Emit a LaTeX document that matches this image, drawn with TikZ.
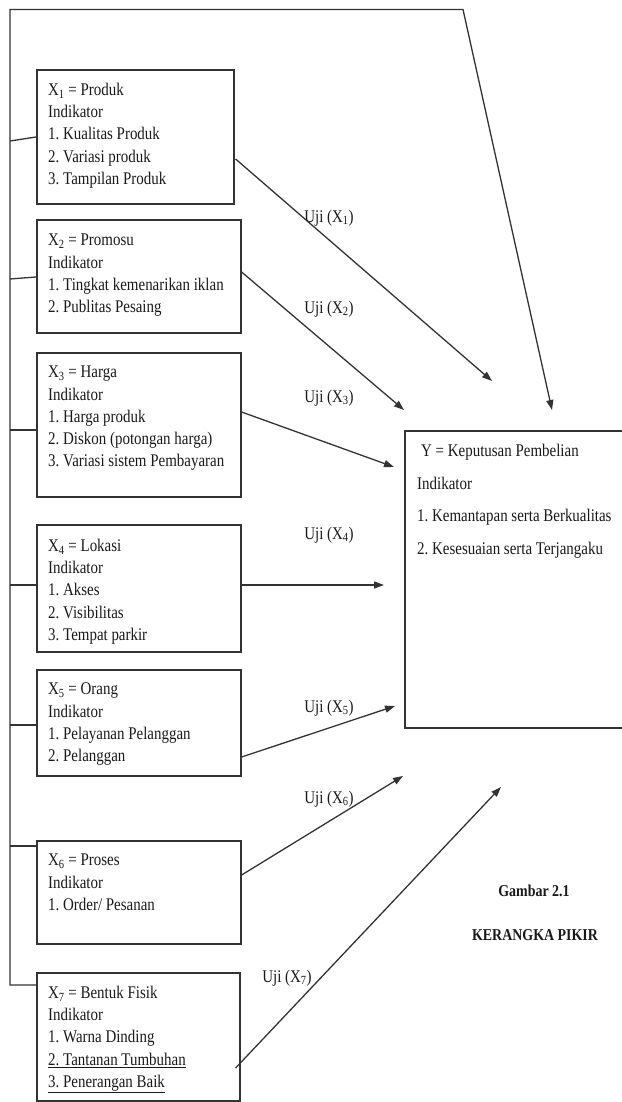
\documentclass[tikz,border=0pt]{standalone}
\usepackage{fontspec}
\setmainfont[FakeStretch=0.84]{Liberation Serif}
\usetikzlibrary{arrows.meta,calc}
\frenchspacing
\begin{document}
\begin{tikzpicture}[x=1pt,y=-1pt,
  ln/.style={draw=black!80,line width=1.3pt,line join=miter},
  boxst/.style={draw=black!80,line width=1.6pt,inner sep=0pt,anchor=north west},
  txt/.style={anchor=north west,inner sep=0pt,align=left,text=black!90,font=\fontsize{17.8}{22.2}\selectfont},
  lbl/.style={inner sep=0pt,text=black!90,font=\fontsize{17.8}{20}\selectfont},
  ttl/.style={inner sep=0pt,text=black!90,font=\bfseries\fontsize{16.6}{18}\selectfont},
  arr/.style={ln,-{Triangle[length=10pt,width=7pt]}},
]
\useasboundingbox (0,0) rectangle (621,1102);

% boxes
\node[boxst,minimum width=197pt,minimum height=134pt] (b1) at (36,69) {};
\node[boxst,minimum width=204pt,minimum height=113pt] (b2) at (36,219) {};
\node[boxst,minimum width=204pt,minimum height=144pt] (b3) at (36,352) {};
\node[boxst,minimum width=204pt,minimum height=127pt] (b4) at (36,524) {};
\node[boxst,minimum width=204pt,minimum height=106pt] (b5) at (36,669) {};
\node[boxst,minimum width=204pt,minimum height=103pt] (b6) at (36,840) {};
\node[boxst,minimum width=203pt,minimum height=128pt] (b7) at (36,972) {};
\node[boxst,minimum width=225pt,minimum height=297pt] (by) at (404,430) {};

% box texts
\node[txt] (t1) at (48,83) {X\textsubscript{1} = Produk\\Indikator\\1. Kualitas Produk\\2. Variasi produk\\3. Tampilan Produk};
\node[txt] (t2) at (48,234) {X\textsubscript{2} = Promosu\\Indikator\\1. Tingkat kemenarikan iklan\\2. Publitas Pesaing};
\node[txt] (t3) at (48,366) {X\textsubscript{3} = Harga\\Indikator\\1. Harga produk\\2. Diskon (potongan harga)\\3. Variasi sistem Pembayaran};
\node[txt] (t4) at (48,539) {X\textsubscript{4} = Lokasi\\Indikator\\1. Akses\\2. Visibilitas\\3. Tempat parkir};
\node[txt] (t5) at (48,683) {X\textsubscript{5} = Orang\\Indikator\\1. Pelayanan Pelanggan\\2. Pelanggan};
\node[txt] (t6) at (48,854) {X\textsubscript{6} = Proses\\Indikator\\1. Order/ Pesanan};
\node[txt] (t7) at (48,986) {X\textsubscript{7} = Bentuk Fisik\\Indikator\\1. Warna Dinding\\\underline{2. Tantanan Tumbuhan}\\\underline{3. Penerangan Baik}};
\node[txt] (ty) at (417,444) {\hspace*{4pt}Y = Keputusan Pembelian\\[10.3pt]Indikator\\[10.3pt]1. Kemantapan serta Berkualitas\\[10.3pt]2. Kesesuaian serta Terjangaku};

% labels
\node[lbl] (u1) at (329,218) {Uji (X\textsubscript{1})};
\node[lbl] (u2) at (329,309) {Uji (X\textsubscript{2})};
\node[lbl] (u3) at (329,398) {Uji (X\textsubscript{3})};
\node[lbl] (u4) at (329,535) {Uji (X\textsubscript{4})};
\node[lbl] (u5) at (329,708) {Uji (X\textsubscript{5})};
\node[lbl] (u6) at (329,799) {Uji (X\textsubscript{6})};
\node[lbl] (u7) at (287,978) {Uji (X\textsubscript{7})};
\node[ttl] (g1) at (534,891) {Gambar 2.1};
\node[ttl] (g2) at (535,935) {KERANGKA PIKIR};

% frame line
\coordinate (ftop) at (10,9.5);
\coordinate (fcorner) at (463,9.5);
\coordinate (fbot) at (10,985);
\coordinate (atop) at (552,410);
\draw[arr] ($(b7.north west)+(0,13)$) -- (fbot) -- (ftop) -- (fcorner) -- (atop);

% ticks to boxes
\coordinate (l1) at (10,141);
\coordinate (l2) at (10,279);
\coordinate (l3) at (10,430);
\coordinate (l4) at (10,585);
\coordinate (l5) at (10,725);
\coordinate (l6) at (10,846);
\draw[ln] (l1) -- ($(b1.north west)+(0,68)$);
\draw[ln] (l2) -- ($(b2.north west)+(0,58)$);
\draw[ln] (l3) -- ($(b3.north west)+(0,78)$);
\draw[ln] (l4) -- ($(b4.north west)+(0,61)$);
\draw[ln] (l5) -- ($(b5.north west)+(0,56)$);
\draw[ln] (l6) -- ($(b6.north west)+(0,6)$);

% arrows toward Y
\coordinate (a1) at (492,381);
\coordinate (a2) at (404,410);
\coordinate (a3) at (394,467);
\coordinate (a4) at (384,585);
\coordinate (a5) at (395,706);
\coordinate (a6) at (403,776);
\coordinate (a7) at (501,787);
\draw[arr] ($(b1.north east)+(1,90)$) -- (a1);
\draw[arr] ($(b2.north east)+(0,53)$) -- (a2);
\draw[arr] ($(b3.north east)+(0,60)$) -- (a3);
\draw[arr] ($(b4.north east)+(0,61)$) -- (a4);
\draw[arr] ($(b5.north east)+(0,88)$) -- (a5);
\draw[arr] ($(b6.north east)+(0,35)$) -- (a6);
\draw[arr] ($(b7.north east)+(-5,96)$) -- (a7);
\end{tikzpicture}
\end{document}
